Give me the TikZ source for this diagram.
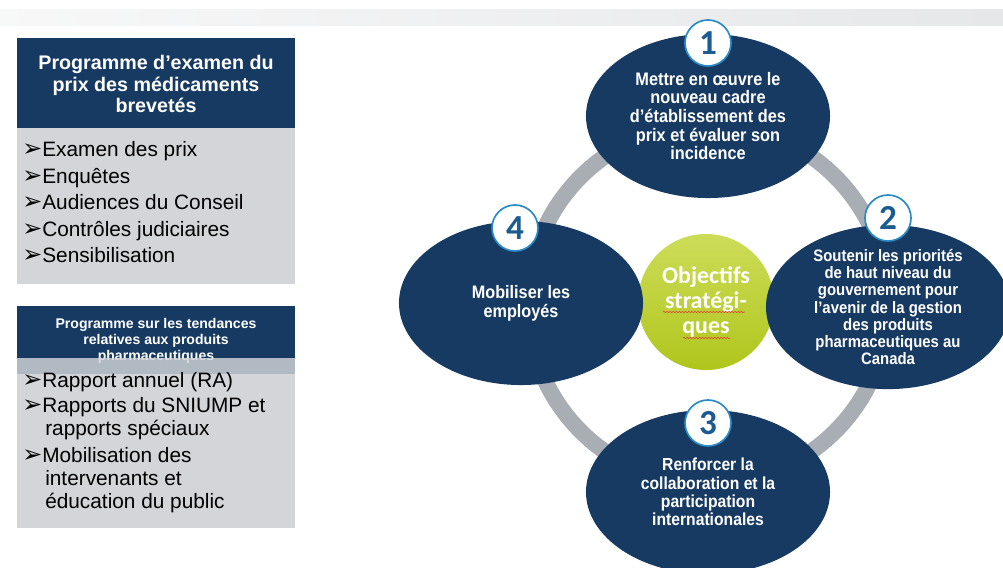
\documentclass[tikz,border=0pt]{standalone}
\usepackage{fontspec}
\setmainfont{Liberation Sans}
\newfontfamily\narrowfont[FakeStretch=0.9]{Liberation Sans}
\newfontfamily\calfont{Carlito}
\newfontfamily\dingfont{DejaVu Sans}
\usetikzlibrary{shapes.geometric,decorations.pathmorphing}

\definecolor{navy}{HTML}{173A63}
\definecolor{boxgrey}{HTML}{D4D5D9}
\definecolor{bargrey}{HTML}{E6E7E9}
\definecolor{ringgrey}{HTML}{A9ADB4}
\definecolor{badgeblue}{HTML}{2C8AC4}
\definecolor{numblue}{HTML}{1B5B8F}
\definecolor{limetop}{HTML}{CDDC59}
\definecolor{limebot}{HTML}{B0C61C}
\definecolor{squiggle}{HTML}{E0403A}

\newcommand{\pointer}{{\dingfont\fontsize{17}{17}\selectfont ➢}}

\tikzset{
  goal/.style={ellipse, fill=navy, text=white, inner sep=0pt,
    minimum width=6.1cm, minimum height=4.1cm, align=center},
  badge/.style={circle, fill=white, draw=badgeblue, line width=1.2pt,
    minimum size=1.15cm, inner sep=0pt, text=numblue,
    font=\calfont\bfseries\fontsize{25}{25}\selectfont},
  item/.style={anchor=base west, inner sep=0pt,
    font=\fontsize{14.8}{17}\selectfont},
  boxhead/.style={text=white, align=center, inner sep=0pt},
  wavy/.style={draw=squiggle, line width=0.4pt, decorate,
    decoration={snake, amplitude=0.5pt, segment length=2.2pt}},
}

\begin{document}
\begin{tikzpicture}[x=0.025cm, y=-0.025cm]
  \useasboundingbox (0,0) rectangle (1003,567);

  % band along the top
  \shade[left color=white!70!bargrey, right color=bargrey] (0,9) rectangle (1003,25);

  % price review box
  \fill[navy] (17,38) rectangle (295,128);
  \fill[boxgrey] (17,128) rectangle (295,284);
  \node[boxhead, font=\bfseries\fontsize{14}{15.6}\selectfont] (head1) at (156,84)
    {Programme d’examen du\\prix des médicaments\\brevetés};
  \foreach \txt [count=\i] in {Examen des prix, Enquêtes, Audiences du Conseil,
      Contrôles judiciaires, Sensibilisation}{
    \node[item] (p\i) at (22, 130 + 26.5*\i) {\pointer\txt};
  }

  % trends box
  \fill[navy] (17,306) rectangle (295,374);
  \node[boxhead, font=\bfseries\fontsize{10}{11.4}\selectfont] (head2) at (156,341)
    {Programme sur les tendances\\relatives aux produits\\pharmaceutiques};
  \fill[boxgrey, opacity=0.82] (17,358) rectangle (295,374);
  \fill[boxgrey] (17,374) rectangle (295,528);
  \node[item] (t1) at (22,387) {\pointer Rapport annuel (RA)};
  \node[item] (t2) at (22,412) {\pointer Rapports du SNIUMP et};
  \node[item] (t2b) at (45,435) {rapports spéciaux};
  \node[item] (t3) at (22,462) {\pointer Mobilisation des};
  \node[item] (t3b) at (45,485) {intervenants et};
  \node[item] (t3c) at (45,508) {éducation du public};

  % cycle of goals
  \draw[ringgrey, line width=0.4cm] (708,304) circle [radius=180];

  \node[circle, minimum size=3.4cm, inner sep=0pt, top color=limetop,
    bottom color=limebot, text=white, align=center,
    font=\calfont\bfseries\fontsize{17}{18}\selectfont] (core) at (706,302)
    {Objectifs\\stratégi-\\ques};
  \draw[wavy] (663,312) -- (745,312);
  \draw[wavy] (683,338) -- (730,338);

  \node[goal, font=\narrowfont\bfseries\fontsize{12.9}{13.3}\selectfont] (g1) at (708,116)
    {Mettre en œuvre le\\nouveau cadre\\d’établissement des\\prix et évaluer son\\incidence};
  \node[goal, font=\narrowfont\bfseries\fontsize{11.8}{12.3}\selectfont] (g2) at (888,307)
    {Soutenir les priorités\\de haut niveau du\\gouvernement pour\\l’avenir de la gestion\\des produits\\pharmaceutiques au\\Canada};
  \node[goal, font=\narrowfont\bfseries\fontsize{12.4}{13}\selectfont] (g3) at (708,492)
    {Renforcer la\\collaboration et la\\participation\\internationales};
  \node[goal, font=\narrowfont\bfseries\fontsize{12.8}{13.6}\selectfont] (g4) at (521,303)
    {Mobiliser les\\employés};

  \foreach \n/\x/\y in {1/708/43, 2/888/218, 3/708/423, 4/515/228}{
    \node[badge] (b\n) at (\x,\y) {\n};
  }
\end{tikzpicture}
\end{document}
